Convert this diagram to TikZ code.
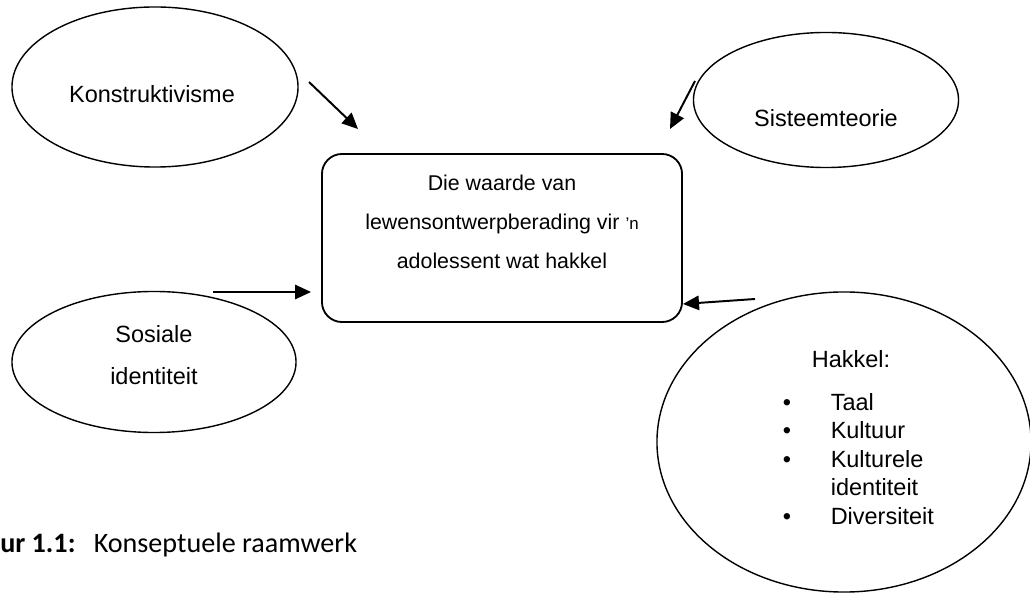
\documentclass[tikz,border=0pt]{standalone}
\usepackage{fontspec}
\setmainfont{Liberation Sans}
\newfontfamily\onderskrif{Carlito}
\usetikzlibrary{
	shapes.geometric, % ellipse
	arrows.meta       % Triangle tips
}

\begin{document}
\begin{tikzpicture}[x=0.025cm, y=-0.025cm,
		>={Triangle[length=0.4cm, width=0.36cm]},
		ovaal/.style={draw, ellipse, line width=1pt, inner sep=0pt},
		blok/.style={draw, rectangle, rounded corners=0.5cm, line width=1.3pt,
			minimum width=9cm, minimum height=4.2cm},
		pyl/.style={->, line width=1.4pt},
		etiket/.style={anchor=base, font=\fontsize{16.7}{29.2}\selectfont}]
		% page size (pixels of the reference)
		\useasboundingbox[fill=white] (0,0) rectangle (1030,596);
		
		% --- Centre ---
		\node[blok] (waarde) at (502,238) {};
		\node[anchor=base, font=\fontsize{15.2}{27.7}\selectfont] (waarde-tekst) at (502,191)
		{\begin{tabular}[t]{@{}c@{}}
				Die waarde van\\
				lewensontwerpberading vir {\fontsize{12}{12}\selectfont ’n}\\
				adolessent wat hakkel
		\end{tabular}};
		
		% --- Theories round it ---
		\node[ovaal, minimum width=7.15cm, minimum height=4cm] (konstr) at (155,87) {};
		\node[etiket] (konstr-tekst) at (152,103) {Konstruktivisme};
		
		\node[ovaal, minimum width=6.625cm, minimum height=3.375cm] (sisteem) at (826,100) {};
		\node[etiket] (sisteem-tekst) at (826,127) {Sisteemteorie};
		
		\node[ovaal, minimum width=7.1cm, minimum height=3.525cm] (sosiaal) at (154,362) {};
		\node[etiket] (sosiaal-tekst) at (154,343)
		{\begin{tabular}[t]{@{}c@{}}Sosiale\\ identiteit\end{tabular}};
		
		\node[ovaal, minimum width=9.35cm, minimum height=7.5cm] (hakkel) at (844,442) {};
		\node[etiket] (hakkel-kop) at (851,367) {Hakkel:};
		\node[anchor=base west, font=\fontsize{16.7}{20.3}\selectfont] (hakkel-lys) at (778,410)
		{\begin{tabular}[t]{@{}p{34pt}@{}l@{}}
				\textbullet & Taal\\
				\textbullet & Kultuur\\
				\textbullet & Kulturele\\
				            & identiteit\\
				\textbullet & Diversiteit
		\end{tabular}};
		
		% --- Arrows (free ends) ---
		\coordinate (konstr-uit) at (309,82);
		\coordinate (waarde-in1) at (358,129);
		\coordinate (sisteem-uit) at (695,81);
		\coordinate (waarde-in2) at (670,129);
		\coordinate (sosiaal-uit) at (213,292);
		\coordinate (waarde-in3) at (311,292);
		\coordinate (hakkel-uit) at (755,299);
		\coordinate (waarde-in4) at (683,304);
		\draw[pyl] (konstr-uit) -- (waarde-in1);
		\draw[pyl] (sisteem-uit) -- (waarde-in2);
		\draw[pyl] (sosiaal-uit) -- (waarde-in3);
		\draw[pyl] (hakkel-uit) -- (waarde-in4);
		
		% --- Caption ---
		\node[anchor=base west, inner sep=0pt, font=\onderskrif\fontsize{20}{24}\selectfont] (onderskrif)
		at (0,552) {\textbf{ur 1.1:}\hspace{13pt}Konseptuele raamwerk};
	\end{tikzpicture}
\end{document}
